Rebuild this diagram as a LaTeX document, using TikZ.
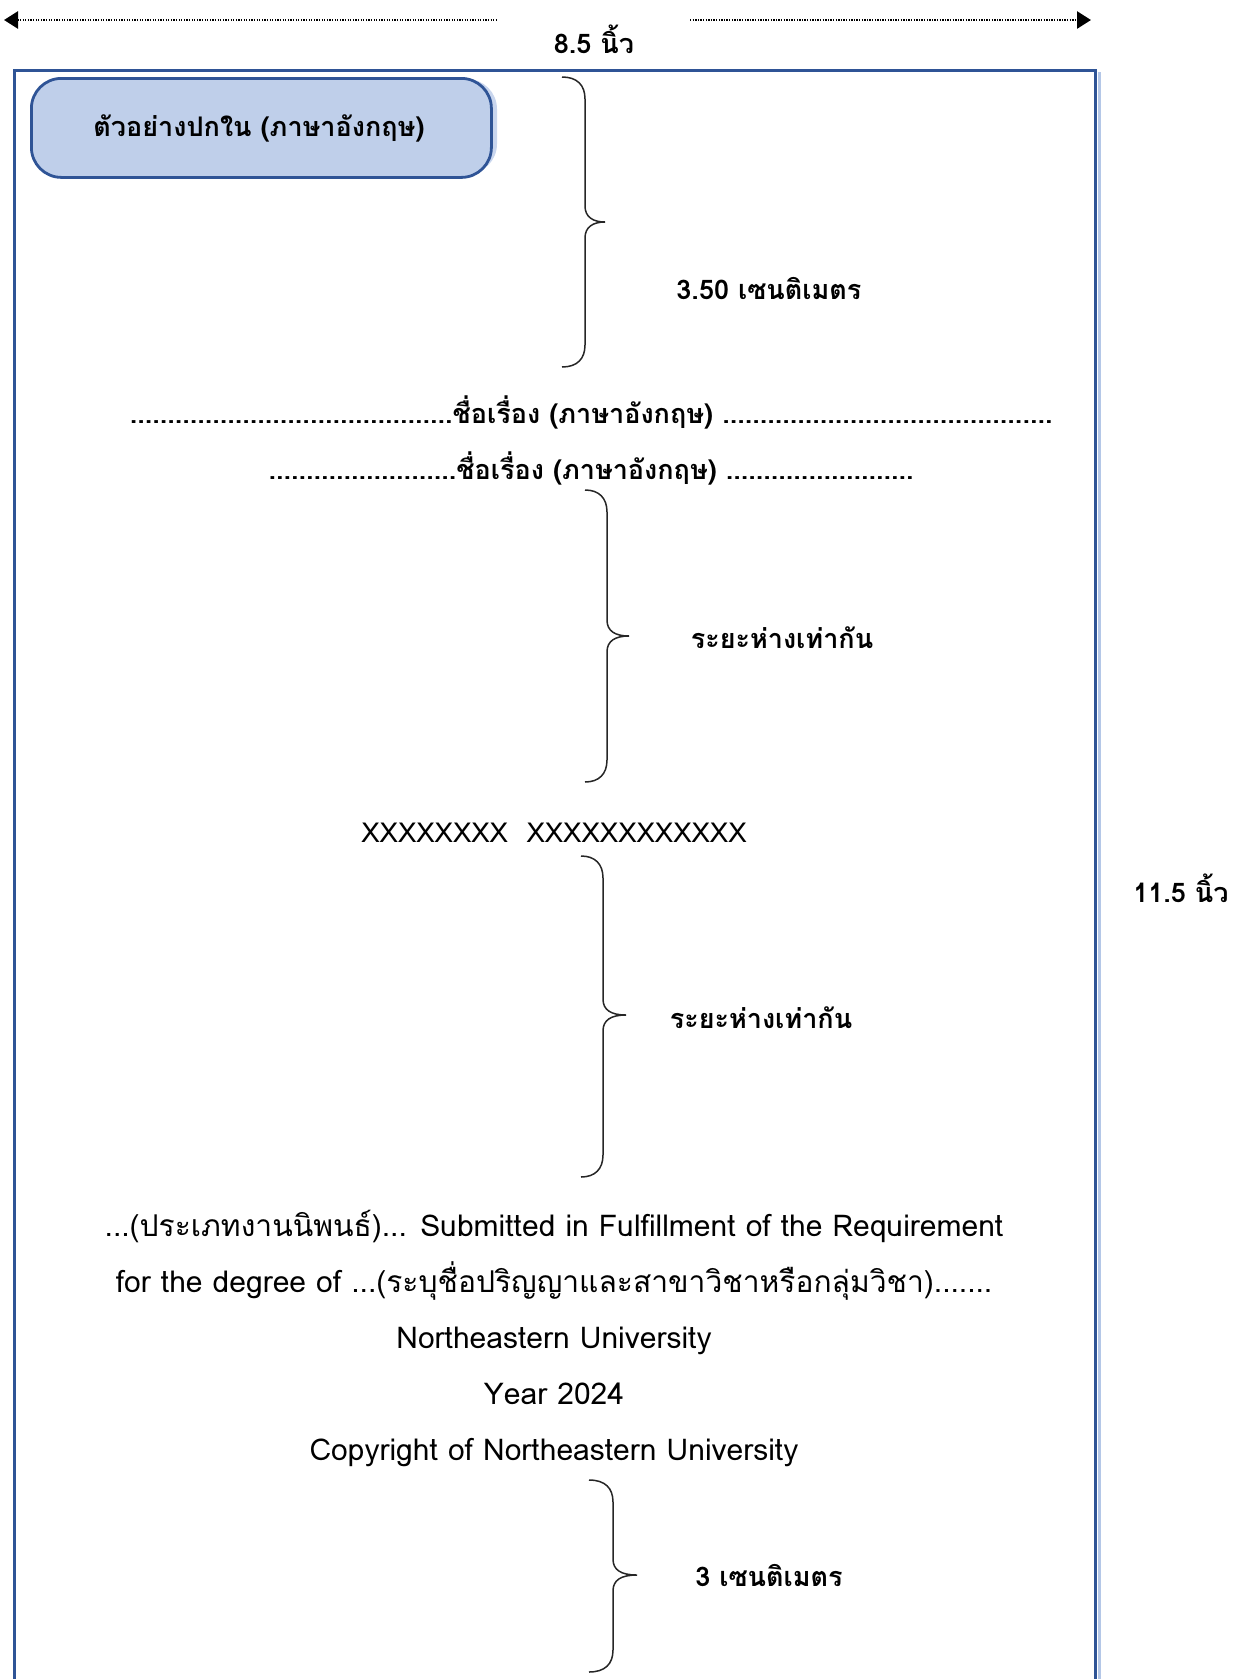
\documentclass[tikz,border=0pt]{standalone}
\usepackage{fontspec}
\setmainfont[Script=Thai]{Loma}
\usetikzlibrary{arrows.meta}
\definecolor{frameblue}{HTML}{2F5496}
\definecolor{shadeblue}{HTML}{B4C7E7}
\definecolor{boxfill}{HTML}{BFCFEA}
\definecolor{boxshadow}{HTML}{C9D6EE}
\newcommand{\rbr}[6]{% x end, spine x, tip x, y top, y tip, y bottom
  \draw[bracestyle] (#1,#4) .. controls ({#2-8},#4) and (#2,{#4+8}) .. (#2,{#4+22})
    -- (#2,{#5-16}) .. controls (#2,{#5-5}) and ({#2+8},#5) .. (#3,#5)
    .. controls ({#2+8},#5) and (#2,{#5+5}) .. (#2,{#5+16})
    -- (#2,{#6-22}) .. controls (#2,{#6-8}) and ({#2-8},#6) .. (#1,#6);}
\begin{document}
\begin{tikzpicture}[x=1pt,y=-1pt,
  bracestyle/.style={draw=black!85, line width=1.5pt},
  dimline/.style={line width=2.6pt, dash pattern=on 1.3pt off 1.3pt},
  lab/.style={font=\fontsize{27}{32}\selectfont\bfseries, inner sep=0pt, text height=24pt, text depth=4pt},
  body/.style={font=\fontsize{30}{34}\selectfont, inner sep=0pt, text height=26pt, text depth=4pt},
  tipbox/.style={rounded corners=30pt, draw=frameblue, line width=2.8pt, fill=boxfill}]
\useasboundingbox (0,0) rectangle (1232,1679);
\begin{scope}
\clip (0,0) rectangle (1232,1679);
% page frame
\draw[shadeblue, line width=3pt] (1099,72) -- (1099,1700);
\draw[frameblue, line width=3pt] (14,1700) -- (14,70) -- (1095,70) -- (1095,1700);
\end{scope}
% width arrows
\coordinate (la) at (4,20);
\coordinate (lb) at (498,20);
\coordinate (ra) at (690,20);
\coordinate (rb) at (1091,20);
\draw[dimline, {Triangle[length=14pt,width=17pt]}-] (la) -- (lb);
\draw[dimline, -{Triangle[length=14pt,width=17pt]}] (ra) -- (rb);
\node[lab] (w) at (594,43) {8.5 นิ้ว};
\node[lab] (h) at (1181,892) {11.5 นิ้ว};
% title box
\fill[boxshadow, rounded corners=30pt] (38,79) rectangle (497,174);
\node[tipbox, minimum width=460pt, minimum height=99pt, anchor=north west] (box) at (30,77) {};
\node[lab] (boxt) at (259,126) {ตัวอย่างปกใน (ภาษาอังกฤษ)};
% braces
\rbr{562}{585}{605}{77}{222}{367}
\node[lab] (b1) at (769,289) {3.50 เซนติเมตร};
\rbr{585}{607}{629}{490}{636}{782}
\node[lab] (b2) at (782,638) {ระยะห่างเท่ากัน};
\rbr{581}{603}{626}{856}{1015}{1177}
\node[lab] (b3) at (761,1018) {ระยะห่างเท่ากัน};
\rbr{589}{613}{637}{1480}{1575}{1672}
\node[lab] (b4) at (769,1576) {3 เซนติเมตร};
% titles
\node[lab] (t1) at (591,413) {...........................................ชื่อเรื่อง (ภาษาอังกฤษ) ............................................};
\node[lab] (t2) at (591,469) {.........................ชื่อเรื่อง (ภาษาอังกฤษ) .........................};
\node[font=\fontsize{27.5}{32}\selectfont, inner sep=0pt] (x) at (554,833) {XXXXXXXX\ \ XXXXXXXXXXXX};
% bottom lines
\node[body] (l1) at (554,1225) {...(ประเภทงานนิพนธ์)... Submitted in Fulfillment of the Requirement};
\node[body] (l2) at (554,1281) {for the degree of ...(ระบุชื่อปริญญาและสาขาวิชาหรือกลุ่มวิชา).......};
\node[body] (l3) at (554,1337) {Northeastern University};
\node[body] (l4) at (554,1393) {Year 2024};
\node[body] (l5) at (554,1449) {Copyright of Northeastern University};
\end{tikzpicture}
\end{document}
